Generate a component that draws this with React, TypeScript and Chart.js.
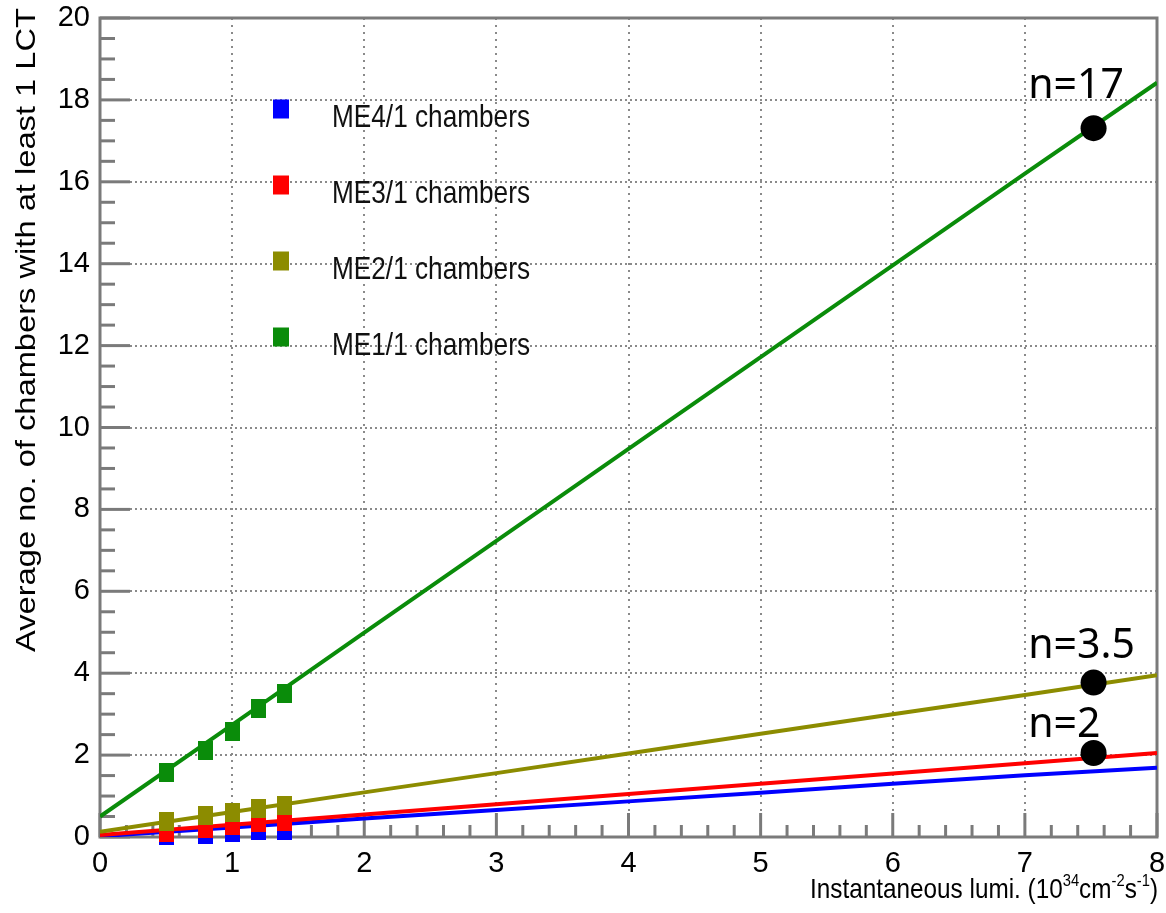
import React, { useEffect, useRef } from 'react';
import { Chart, registerables } from 'chart.js';

Chart.register(...registerables);

// ---------------- data ----------------
const xFit = [0, 1, 2, 3, 4, 5, 6, 7, 8];
const me1Fit = [0.5, 2.74, 4.99, 7.23, 9.48, 11.72, 13.96, 16.2, 18.42];
const me2Fit = [0.13, 0.61, 1.09, 1.56, 2.04, 2.52, 3.0, 3.47, 3.95];
const me3Fit = [0.05, 0.3, 0.55, 0.8, 1.05, 1.3, 1.55, 1.8, 2.05];
const me4Fit = [0.02, 0.23, 0.45, 0.66, 0.87, 1.08, 1.3, 1.51, 1.69];

const xMeas = [0.5, 0.8, 1.0, 1.2, 1.4];
const me1Meas = [1.57, 2.12, 2.57, 3.14, 3.51];
const me2Meas = [0.37, 0.52, 0.59, 0.7, 0.78];
const me3Meas = [0.12, 0.2, 0.28, 0.36, 0.38];
const me4Meas = [0.03, 0.07, 0.1, 0.16, 0.17];

const seriesNames = ['ME4/1 chambers', 'ME3/1 chambers', 'ME2/1 chambers', 'ME1/1 chambers'];
const seriesColors = ['#0000ff', '#ff0000', '#8c8c00', '#0a8c0a'];
const fitSeries = [me4Fit, me3Fit, me2Fit, me1Fit];
const measSeries = [me4Meas, me3Meas, me2Meas, me1Meas];

const highlightX = [7.52, 7.52, 7.52];
const highlightY = [17.31, 3.77, 2.05];
const highlightLabels = ['n=17', 'n=3.5', 'n=2'];
const highlightLabelX = [7.025, 7.025, 7.025];
const highlightLabelY = [18.05, 4.37, 2.44];

const xMin = 0, xMax = 8, xStep = 1, xMinor = 0.2;
const yMin = 0, yMax = 20, yStep = 2, yMinor = 0.5;

const yTitle = 'Average no. of chambers with at least 1 LCT';

const TICK_FONT = '"Liberation Sans Narrow", "Liberation Sans", Arial, sans-serif';
const SANS = '"Liberation Sans", Arial, sans-serif';
const FRAME = '#7a7a7a';
const GRID = '#8a8a8a';

function makeMarker(color: string) {
  const c = document.createElement('canvas');
  c.width = 15;
  c.height = 19;
  const g = c.getContext('2d')!;
  g.fillStyle = color;
  g.fillRect(0, 0, 15, 19);
  return c;
}

const framePlugin = {
  id: 'frameTicks',
  beforeDatasetsDraw(chart: any) {
    const { ctx, chartArea: a, scales } = chart;
    const xs = scales.x, ys = scales.y;
    ctx.save();
    ctx.strokeStyle = FRAME;
    ctx.lineWidth = 3;
    for (let v = yMin; v <= yMax + 1e-9; v += yMinor) {
      const major = Math.abs(v / yStep - Math.round(v / yStep)) < 1e-6;
      const p = ys.getPixelForValue(v);
      ctx.beginPath();
      ctx.moveTo(a.left, p);
      ctx.lineTo(a.left + (major ? 30 : 15), p);
      ctx.stroke();
    }
    for (let v = xMin; v <= xMax + 1e-9; v += xMinor) {
      const major = Math.abs(v / xStep - Math.round(v / xStep)) < 1e-6;
      const p = xs.getPixelForValue(v);
      ctx.beginPath();
      ctx.moveTo(p, a.bottom);
      ctx.lineTo(p, a.bottom - (major ? 24 : 12));
      ctx.stroke();
    }
    ctx.strokeRect(a.left, a.top, a.right - a.left, a.bottom - a.top);
    ctx.restore();
  },
  afterDraw(chart: any) {
    const { ctx, chartArea: a, scales } = chart;
    ctx.save();
    ctx.fillStyle = '#000';
    ctx.font = `28px ${SANS}`;
    const yw = ctx.measureText(yTitle).width;
    ctx.translate(a.left - 65, a.top - 10);
    ctx.rotate(-Math.PI / 2);
    ctx.scale(644 / yw, 1);
    ctx.textAlign = 'right';
    ctx.textBaseline = 'alphabetic';
    ctx.fillText(yTitle, 0, 0);
    ctx.restore();

    ctx.save();
    ctx.fillStyle = '#000';
    const parts: [string, boolean][] = [
      ['Instantaneous lumi. (10', false],
      ['34', true],
      ['cm', false],
      ['-2', true],
      ['s', false],
      ['-1', true],
      [')', false],
    ];
    const bigF = `28px ${SANS}`;
    const supF = `17px ${SANS}`;
    let total = 0;
    const widths = parts.map(([t, s]) => {
      ctx.font = s ? supF : bigF;
      const w = ctx.measureText(t).width;
      total += w;
      return w;
    });
    const target = 348;
    ctx.translate(a.right + 1 - target, a.bottom + 61);
    ctx.scale(target / total, 1);
    ctx.textAlign = 'left';
    ctx.textBaseline = 'alphabetic';
    let x = 0;
    parts.forEach(([t, s], i) => {
      ctx.font = s ? supF : bigF;
      ctx.fillText(t, x, s ? -12 : 0);
      x += widths[i];
    });
    ctx.restore();

    ctx.save();
    ctx.font = `32px ${SANS}`;
    const lw = ctx.measureText(seriesNames[0]).width;
    const lsc = 198 / lw;
    seriesNames.forEach((name, i) => {
      const base = a.top + 109 + i * 76;
      ctx.fillStyle = seriesColors[i];
      ctx.fillRect(a.left + 181 - 8, base - 18 - 9.5, 16, 19);
      ctx.save();
      ctx.fillStyle = '#111';
      ctx.translate(a.left + 232, base);
      ctx.scale(lsc, 1);
      ctx.textBaseline = 'alphabetic';
      ctx.fillText(name, 0, 0);
      ctx.restore();
    });
    ctx.restore();

    ctx.save();
    ctx.fillStyle = '#000';
    ctx.font = '41px "Noto Sans", "Open Sans", sans-serif';
    ctx.textBaseline = 'alphabetic';
    highlightLabels.forEach((t, i) => {
      ctx.fillText(t, scales.x.getPixelForValue(highlightLabelX[i]), scales.y.getPixelForValue(highlightLabelY[i]));
    });
    ctx.restore();
  },
};

export default function App() {
  const ref = useRef<HTMLCanvasElement>(null);
  useEffect(() => {
    if (!ref.current) return;
    const datasets: any[] = [];
    datasets.push({
      type: 'scatter',
      label: 'highlight',
      data: highlightX.map((x, i) => ({ x, y: highlightY[i] })),
      pointRadius: 13,
      pointBackgroundColor: '#000',
      pointBorderWidth: 0,
      order: 0,
    });
    for (let i = 3; i >= 0; i--) {
      const ord = (3 - i) * 2 + 1;
      datasets.push({
        type: 'scatter',
        label: seriesNames[i] + ' data',
        data: xMeas.map((x, k) => ({ x, y: measSeries[i][k] })),
        pointStyle: makeMarker(seriesColors[i]),
        pointRadius: 9,
        clip: false,
        order: ord,
      });
      datasets.push({
        type: 'line',
        label: seriesNames[i],
        data: xFit.map((x, k) => ({ x, y: fitSeries[i][k] })),
        borderColor: seriesColors[i],
        borderWidth: 4,
        pointRadius: 0,
        fill: false,
        tension: 0,
        order: ord + 1,
      });
    }
    const chart = new Chart(ref.current, {
      type: 'scatter',
      data: { datasets },
      plugins: [framePlugin],
      options: {
        animation: false,
        responsive: false,
        devicePixelRatio: 1,
        layout: { autoPadding: false, padding: { top: 18, right: 9, left: 0, bottom: 0 } },
        plugins: { legend: { display: false }, tooltip: { enabled: false }, title: { display: false } },
        scales: {
          x: {
            type: 'linear',
            min: xMin,
            max: xMax,
            afterFit: (s: any) => { s.height = 76; s.paddingLeft = 0; s.paddingRight = 0; },
            ticks: { stepSize: xStep, color: '#000', font: { family: TICK_FONT, size: 29 }, padding: 10 },
            grid: { drawTicks: false, color: GRID, lineWidth: 2 },
            border: { display: false, dash: [2, 5] },
          },
          y: {
            type: 'linear',
            min: yMin,
            max: yMax,
            afterFit: (s: any) => { s.width = 100; s.paddingTop = 0; s.paddingBottom = 0; },
            ticks: { stepSize: yStep, color: '#000', font: { family: TICK_FONT, size: 29 }, padding: 10 },
            grid: { drawTicks: false, color: GRID, lineWidth: 2 },
            border: { display: false, dash: [2, 3] },
          },
        },
      } as any,
    });
    return () => chart.destroy();
  }, []);
  return (
    <div style={{ position: 'absolute', left: 0, top: 0, width: 1166, height: 913, background: '#fff' }}>
      <canvas ref={ref} width={1166} height={913} />
    </div>
  );
}
